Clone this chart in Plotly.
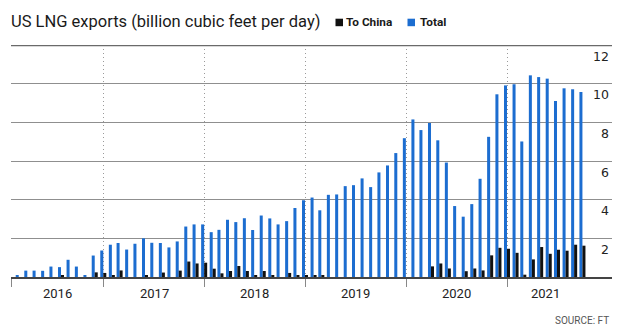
import pandas as pd
import plotly.graph_objects as go

# Monthly US LNG exports, billion cubic feet per day (Feb 2016 - Sep 2021)
total_2016 = [0.10, 0.33, 0.33, 0.32, 0.54, 0.51, 0.89, 0.54, 0.07, 1.11, 1.37]
total_2017 = [1.67, 1.76, 1.42, 1.72, 2.00, 1.77, 1.76, 1.53, 1.84, 2.61, 2.72, 2.72]
total_2018 = [2.32, 2.44, 2.96, 2.84, 3.04, 2.43, 3.18, 3.03, 2.72, 2.89, 3.57, 3.97]
total_2019 = [4.11, 3.45, 4.25, 4.27, 4.70, 4.75, 5.10, 4.65, 5.41, 5.77, 6.41, 7.18]
total_2020 = [8.15, 7.60, 7.97, 7.07, 5.92, 3.67, 3.12, 3.77, 5.08, 7.25, 9.45, 9.91]
total_2021 = [9.97, 7.01, 10.43, 10.34, 10.26, 9.10, 9.76, 9.71, 9.57]

china_2016 = [0, 0, 0, 0, 0, 0.08, 0, 0, 0, 0.24, 0.21]
china_2017 = [0.09, 0.34, 0, 0, 0.09, 0, 0.23, 0, 0.33, 0.80, 0.70, 0.74]
china_2018 = [0.43, 0.19, 0.31, 0.57, 0.31, 0.09, 0.31, 0.09, 0, 0.21, 0.09, 0.09]
china_2019 = [0.09, 0.09, 0, 0, 0, 0, 0, 0, 0, 0, 0, 0]
china_2020 = [0, 0, 0.55, 0.70, 0.44, 0, 0.30, 0.44, 0.34, 1.12, 1.51, 1.46]
china_2021 = [1.25, 0.12, 0.91, 1.55, 1.20, 1.41, 1.36, 1.67, 1.62]

total = total_2016 + total_2017 + total_2018 + total_2019 + total_2020 + total_2021
china = china_2016 + china_2017 + china_2018 + china_2019 + china_2020 + china_2021

months = pd.date_range("2016-02-29", "2021-09-30", freq=pd.offsets.MonthEnd())

year_labels = ["2016", "2017", "2018", "2019", "2020", "2021"]
year_starts = ["2016-02-01", "2017-01-01", "2018-01-01", "2019-01-01", "2020-01-01", "2021-01-01"]
year_label_ends = ["2017-01-01", "2018-01-01", "2019-01-01", "2020-01-01", "2021-01-01", "2021-10-05"]
y_ticks = [2, 4, 6, 8, 10, 12]

BLUE = "#1c6dd0"
BLACK = "#111111"
SANS = "Roboto, sans-serif"

# page geometry in pixels
W, H = 620, 332
L, R, T, B = 11, 8, 45, 55
PW, PH = W - L - R, H - T - B


def px_x(p):
    return (p - L) / PW


def px_y(p):
    return (H - B - p) / PH


fig = go.Figure()
fig.add_trace(go.Bar(x=months, y=total, name="Total", marker=dict(color=BLUE, line=dict(width=0))))
fig.add_trace(go.Bar(x=months, y=china, name="To China", marker=dict(color=BLACK, line=dict(width=0))))

annotations = []

# title and legend
annotations.append(dict(text="US LNG exports (billion cubic feet per day)", xref="paper", yref="paper",
                        x=px_x(9), y=px_y(21.5), xanchor="left", yanchor="middle", showarrow=False,
                        font=dict(family=SANS, size=16.5, color="#1a1a1a")))
annotations.append(dict(text="<b>To China</b>", xref="paper", yref="paper",
                        x=px_x(344.5), y=px_y(22.5), xanchor="left", yanchor="middle", showarrow=False,
                        font=dict(family=SANS, size=11.8, color="#1a1a1a")))
annotations.append(dict(text="<b>Total</b>", xref="paper", yref="paper",
                        x=px_x(417.5), y=px_y(22.5), xanchor="left", yanchor="middle", showarrow=False,
                        font=dict(family=SANS, size=11.8, color="#1a1a1a")))

shapes = [
    dict(type="rect", xref="paper", yref="paper", x0=px_x(335.5), x1=px_x(343), y0=px_y(26.2), y1=px_y(18.7),
         fillcolor=BLACK, line=dict(width=0)),
    dict(type="rect", xref="paper", yref="paper", x0=px_x(407.5), x1=px_x(415), y0=px_y(26.2), y1=px_y(18.7),
         fillcolor=BLUE, line=dict(width=0)),
    # heavy rule across the top of the plot
    dict(type="line", xref="paper", yref="y", x0=0, x1=1, y0=12, y1=12, line=dict(color="#6a6a6a", width=2.5)),
]

# value labels sitting under each horizontal rule on the right
for v in y_ticks:
    annotations.append(dict(text=str(v), xref="paper", yref="y", x=1, y=v, xanchor="right", yanchor="middle",
                            xshift=-1, yshift=-11, showarrow=False,
                            font=dict(family="DejaVu Sans", size=12.5, color="#222")))

# year labels centred under each year's span
for lab, a, b in zip(year_labels, year_starts, year_label_ends):
    mid = pd.Timestamp(a) + (pd.Timestamp(b) - pd.Timestamp(a)) / 2
    annotations.append(dict(text=lab, xref="x", yref="paper", x=mid, y=px_y(293), xanchor="center",
                            yanchor="middle", showarrow=False,
                            font=dict(family=SANS, size=13, color="#222")))

annotations.append(dict(text="SOURCE: FT", xref="paper", yref="paper", x=px_x(611), y=px_y(320),
                        xanchor="right", yanchor="middle", showarrow=False,
                        font=dict(family=SANS, size=10, color="#555")))

fig.update_layout(
    width=W, height=H,
    margin=dict(l=L, r=R, t=T, b=B, pad=0),
    paper_bgcolor="white", plot_bgcolor="white",
    barmode="group", bargap=0.22, bargroupgap=0,
    showlegend=False,
    annotations=annotations,
    shapes=shapes,
    xaxis=dict(
        type="date", range=["2016-02-01", "2022-01-15"],
        tickvals=year_starts, showticklabels=False,
        ticks="outside", ticklen=8, tickwidth=1, tickcolor="#888",
        showgrid=True, gridcolor="#9a9a9a", gridwidth=1, griddash="1px,3px",
        showline=True, linecolor="#444", linewidth=1.5,
        zeroline=False,
    ),
    yaxis=dict(
        range=[0, 12], tickvals=[2, 4, 6, 8, 10], showticklabels=False,
        showgrid=True, gridcolor="#8f8f8f", gridwidth=1,
        zeroline=False, showline=False, ticks="",
    ),
)

fig.write_html("out.html", config={"displayModeBar": False})
